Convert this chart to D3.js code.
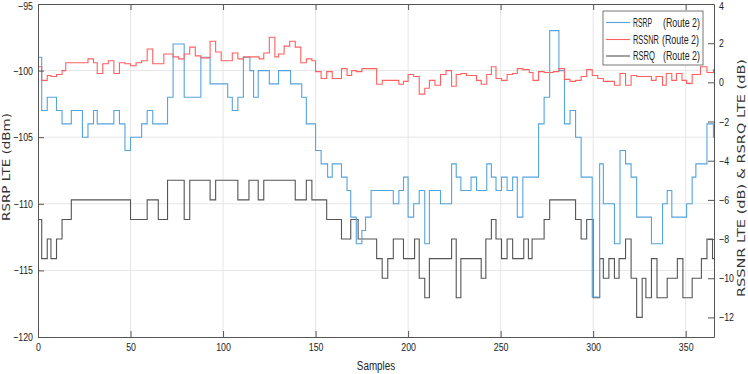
<!DOCTYPE html>
<html>
<head>
<meta charset="utf-8">
<script src="https://cdn.jsdelivr.net/npm/d3@7"></script>
<style>
  html, body { margin: 0; padding: 0; background: #fff; }
  svg { display: block; }
  .nar { font-family: "Liberation Sans", Arial, sans-serif; }
</style>
</head>
<body>
<svg id="chart" width="748" height="374"></svg>
<script>
// ---------------- data ----------------
const xTicks = [0, 50, 100, 150, 200, 250, 300, 350];
const leftTicks = [-120, -115, -110, -105, -100, -95];
const rightTicks = [-12, -10, -8, -6, -4, -2, 0, 2, 4];
const seriesNames = ["RSRP", "RSSNR", "RSRQ"];
const legendNames = ["RSRP", "RSSNR", "RSRQ"];
const legendSuffix = "(Route 2)";

// RSRP (dBm, left axis): sample where each step starts, and its value
const rsrpStart = [0, 2, 5, 10, 13, 18, 24, 27, 30, 32, 41, 44, 47, 50, 56, 59, 62, 70, 73, 79, 88, 93,
  102.5, 105, 108, 111, 114.5, 116.5, 119, 125, 130, 136.5, 142.5, 145, 150, 153, 156.5, 159, 164, 167, 169,
  172, 175, 177, 180, 192, 195, 197.5, 200, 203, 206, 209, 211.5, 217.5, 223.5, 226, 228.5, 234, 237, 242.5,
  245, 247.5, 250.5, 253.5, 256.5, 259, 262, 270.5, 273.5, 276.5, 281.5, 284.5, 287.5, 290.5, 293.5, 299.5,
  303.5, 305.5, 311.5, 314.5, 317.5, 320.5, 323.5, 331.5, 337.5, 340, 342.5, 350.5, 353.5, 355.5, 361.5, 365];
const rsrpValue = [-99, -103, -102, -103, -104, -103, -105, -104, -103, -104, -103, -104, -106, -105, -104, -103, -104, -102, -98, -102, -99, -101,
  -102, -103, -102, -99, -100, -102, -100, -101, -100, -101, -102, -104, -106, -107, -108, -107, -108, -109, -111,
  -113, -112, -111, -109, -110, -109, -108, -111, -110, -109, -113, -109, -110, -107, -108, -109, -108, -109, -107,
  -108, -109, -108, -109, -108, -111, -108, -104, -102, -97, -100, -104, -103, -105, -108, -117,
  -107, -110, -113, -106, -107, -108, -111, -113, -110, -109, -111, -110, -108, -107, -104, -105];

// RSSNR (dB, right axis)
const rssnrStart = [0, 2, 5, 7, 10, 13, 15, 27, 30, 32, 35, 38, 41, 44, 47, 50, 53, 56, 59, 62, 68, 73, 76, 79,
  82, 85, 88, 93, 96, 99, 105, 108, 111, 119.5, 122, 125, 128, 130, 133, 136, 139, 142, 145, 148, 150, 153,
  156, 159, 164, 167, 169.5, 172, 175, 183, 186, 195, 197.5, 200, 203, 206, 209, 211.5, 214.5, 217.5, 220.5,
  223.5, 226, 228.5, 231.5, 237, 239.5, 242.5, 245, 247.5, 250.5, 253.5, 256.5, 259, 262, 265.5, 267.5, 270.5,
  273.5, 278.5, 281.5, 284.5, 287.5, 290.5, 293.5, 296.5, 299.5, 302.5, 305.5, 311.5, 314.5, 317.5, 320.5,
  323.5, 331.5, 334, 337.5, 339.5, 342.5, 345, 348, 350.5, 353.5, 358, 361.5, 365];
const rssnrValue = [0.8, 0.1, 0.35, 0.3, 0.4, 0.6, 1.0, 1.2, 1.0, 0.45, 0.95, 1.1, 0.45, 1.0, 0.95, 0.85, 1.0, 1.1, 1.7, 0.95, 1.45, 1.3, 1.2, 1.45,
  1.8, 1.35, 1.25, 2.1, 1.55, 1.1, 1.5, 1.2, 1.3, 1.2, 1.5, 2.3, 1.3, 1.45, 1.85, 2.1, 1.8, 1.0, 1.2, 1.1, 0.55, 0.2,
  0.55, 0.2, 0.7, 0.35, 0.6, 0.55, 0.7, -0.1, 0.1, -0.1, 0.05, 0.4, 0.3, -0.6, -0.3, 0.1, -0.15, 0.4, 0.6,
  -0.2, 0.4, 0.45, 0.35, 0.1, -0.1, 0.4, 0.8, 0.2, 0.1, 0.4, 0.45, 0.7, 0.65, 0.5, 0.1, 0.55,
  0.5, 0.55, 0.7, 0.15, 0.05, 0.1, 0.3, 0.65, 0.35, 0.2, 0.05, -0.15, 0.45, -0.15, 0.35,
  0.3, 0.1, 0.3, -0.15, 0.45, 0.1, 0.45, 0.1, -0.05, 0.4, 0.8, 0.5, 0.65];

// RSRQ (dB, right axis)
const rsrqStart = [0, 2, 5, 7, 10, 13, 18, 50, 59, 65, 70, 79, 82, 93, 96, 108, 114, 119, 122, 139, 145, 148,
  156, 164, 169, 173, 183, 186, 189, 192, 197.5, 203.5, 206, 209, 211.5, 223.5, 226, 228.5, 239.5, 242, 245,
  247.5, 250.5, 253.5, 256.5, 262.5, 265, 267, 273.5, 276.5, 290.5, 293.5, 296.5, 300, 303.5, 305.5, 308.5,
  311.5, 314, 317.5, 320.5, 323.5, 326.5, 328.5, 331.5, 334.5, 340, 345.5, 348.5, 353.5, 358.5, 361.5, 364.5];
const rsrqValue = [-7, -9, -8, -9, -8, -7, -6, -7, -6, -7, -5, -7, -5, -6, -5, -6, -5, -6, -5, -6, -5, -6,
  -7, -8, -7, -8, -9, -10, -9, -8, -9, -8, -10, -11, -9, -8, -11, -9, -10, -8, -7,
  -8, -9, -8, -9, -8, -9, -8, -7, -6, -7, -8, -7, -11, -9, -10, -9,
  -10, -9, -8, -10, -12, -10, -11, -9, -11, -10, -9, -11, -10, -9, -8, -9];

const colors = { RSRP: "#55a4dd", RSSNR: "#ff6060", RSRQ: "#555555" };

// ---------------- layout ----------------
const svg = d3.select("#chart");
const X0 = 38, X1 = 714, Y0 = 4, Y1 = 337;
const xMax = 365.3;
const x = d3.scaleLinear().domain([0, xMax]).range([X0, X1]);
const yL = d3.scaleLinear().domain([-120, -95]).range([Y1, Y0]);
const yR = d3.scaleLinear().domain([-13, 4]).range([Y1, Y0]);

// condensed text helper (reference uses a narrow face)
function condense(sel, f) {
  sel.each(function () {
    const w = this.getComputedTextLength();
    if (w > 0) d3.select(this).attr("textLength", w * f).attr("lengthAdjust", "spacingAndGlyphs");
  });
}

// grid
const grid = svg.append("g").attr("stroke", "#e6e6e6").attr("stroke-width", 1);
xTicks.filter(t => t > 0).forEach(t => {
  grid.append("line").attr("x1", x(t)).attr("x2", x(t)).attr("y1", Y0).attr("y2", Y1);
});
leftTicks.filter(t => t > -120 && t < -95).forEach(t => {
  grid.append("line").attr("x1", X0).attr("x2", X1).attr("y1", yL(t)).attr("y2", yL(t));
});

// series
function stepPts(starts, vals) {
  const pts = starts.map((s, i) => [s, vals[i]]);
  pts.push([xMax, vals[vals.length - 1]]);
  return pts;
}
svg.append("clipPath").attr("id", "clip").append("rect")
  .attr("x", X0).attr("y", Y0).attr("width", X1 - X0).attr("height", Y1 - Y0);
const plot = svg.append("g").attr("clip-path", "url(#clip)");
const lineL = d3.line().x(d => x(d[0])).y(d => yL(d[1])).curve(d3.curveStepAfter);
const lineR = d3.line().x(d => x(d[0])).y(d => yR(d[1])).curve(d3.curveStepAfter);

plot.append("path").attr("d", lineR(stepPts(rsrqStart, rsrqValue)))
  .attr("fill", "none").attr("stroke", colors.RSRQ).attr("stroke-width", 1.1);
plot.append("path").attr("d", lineL(stepPts(rsrpStart, rsrpValue)))
  .attr("fill", "none").attr("stroke", colors.RSRP).attr("stroke-width", 1.1);
plot.append("path").attr("d", lineR(stepPts(rssnrStart, rssnrValue)))
  .attr("fill", "none").attr("stroke", colors.RSSNR).attr("stroke-width", 1.1);

// axes
const axisColor = "#555";
function styleAxis(g) {
  g.selectAll("path.domain").attr("stroke", axisColor);
  g.selectAll(".tick line").attr("stroke", axisColor);
  g.selectAll(".tick text").attr("fill", "#222").attr("class", "nar").attr("font-size", 11)
    .call(condense, 0.8);
}
svg.append("g").attr("transform", `translate(0,${Y1})`)
  .call(d3.axisBottom(x).tickValues(xTicks).tickSize(-6).tickSizeOuter(0).tickPadding(6))
  .call(styleAxis);
svg.append("g").attr("transform", `translate(0,${Y0})`)
  .call(d3.axisTop(x).tickValues(xTicks).tickSize(-6).tickSizeOuter(0).tickFormat(""))
  .call(styleAxis);
const gL = svg.append("g").attr("transform", `translate(${X0},0)`)
  .call(d3.axisLeft(yL).tickValues(leftTicks).tickSize(-6).tickSizeOuter(0).tickPadding(5))
  .call(styleAxis);
const gR = svg.append("g").attr("transform", `translate(${X1},0)`)
  .call(d3.axisRight(yR).tickValues(rightTicks).tickSize(-6).tickSizeOuter(0).tickPadding(5))
  .call(styleAxis);
// keep the top labels inside the picture
gL.selectAll(".tick text").filter(d => d === -95).attr("dy", "0.5em");
gR.selectAll(".tick text").filter(d => d === 4).attr("dy", "0.5em");

// axis titles
svg.append("text").attr("class", "nar").attr("x", 376).attr("y", 370)
  .attr("text-anchor", "middle").attr("font-size", 12).attr("fill", "#222").text("Samples")
  .call(condense, 0.82);
svg.append("text").attr("transform", `translate(10,167) rotate(-90)`)
  .attr("text-anchor", "middle").attr("font-family", "DejaVu Sans, Verdana, sans-serif")
  .attr("font-size", 11).attr("fill", "#333").attr("textLength", 108)
  .attr("lengthAdjust", "spacingAndGlyphs").text("RSRP LTE (dBm)");
svg.append("text").attr("transform", `translate(745,178) rotate(-90)`)
  .attr("text-anchor", "middle").attr("font-family", "DejaVu Sans, Verdana, sans-serif")
  .attr("font-size", 11).attr("fill", "#333").attr("textLength", 238)
  .attr("lengthAdjust", "spacingAndGlyphs").text("RSSNR LTE (dB) & RSRQ LTE (dB)");

// legend
const lg = svg.append("g");
lg.append("rect").attr("x", 603).attr("y", 11).attr("width", 100).attr("height", 54)
  .attr("fill", "#fff").attr("stroke", "#777").attr("stroke-width", 1);
const rowY = [22.5, 39.5, 56];
const nameLen = [19, 26, 22];
const suffixX = [663, 662, 663];
// place a text squeezed horizontally to a target width via a scale transform
function squeezed(parent, x0, y0, str, target) {
  const g = parent.append("g");
  const t = g.append("text").attr("class", "nar").attr("x", 0).attr("y", 0)
    .attr("font-size", 12).attr("fill", "#222").text(str);
  const w = t.node().getComputedTextLength();
  g.attr("transform", `translate(${x0},${y0}) scale(${target / w},1)`);
}
seriesNames.forEach((name, i) => {
  lg.append("line").attr("x1", 606).attr("x2", 630).attr("y1", rowY[i]).attr("y2", rowY[i])
    .attr("stroke", colors[name]).attr("stroke-width", 1.1);
  squeezed(lg, 633, rowY[i] + 4, legendNames[i], nameLen[i]);
  squeezed(lg, suffixX[i], rowY[i] + 4, legendSuffix, 37);
});
</script>
</body>
</html>
